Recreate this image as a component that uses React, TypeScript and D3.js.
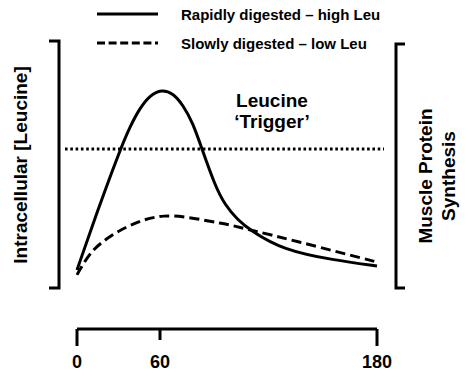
import React from "react";
import * as d3 from "d3";

const timeTicks = [0, 60, 180];
const rapidTime = [0, 14, 31.1, 38.3, 45.5, 52.8, 60.9, 67.2, 72.7, 78.2, 83, 90.4, 95.9, 103.1, 109.7, 128, 156, 180];
const rapidValue = [7.3, 30, 55.9, 65.3, 72.9, 78.1, 80.4, 78.9, 74.1, 66.8, 56.7, 41.5, 33.6, 27.5, 23.5, 15.4, 11.3, 8.9];
const slowTime = [0, 12, 36, 62, 93, 110, 137, 180];
const slowValue = [5.3, 15.4, 24.7, 29.1, 26.3, 23.5, 18.6, 10.5];
const triggerValue = 56.3;
const legendLabels = ["Rapidly digested – high Leu", "Slowly digested – low Leu"];
const leftLabel = "Intracellular [Leucine]";
const rightLabel = ["Muscle Protein", "Synthesis"];
const triggerLabel = ["Leucine", "‘Trigger’"];

export default function App() {
  const W = 470, H = 377;
  const x = d3.scaleLinear().domain([0, 60, 180]).range([77, 160, 377]);
  const y = d3.scaleLinear().domain([0, 100]).range([288, 41]);
  const line = d3.line<[number, number]>()
    .x(d => x(d[0]))
    .y(d => y(d[1]))
    .curve(d3.curveBasis);
  const rapid = line(rapidTime.map((t, i) => [t, rapidValue[i]]) as [number, number][]) || "";
  const slow = d3.line<[number, number]>()
    .x(d => x(d[0]))
    .y(d => y(d[1]))
    .curve(d3.curveCatmullRom.alpha(0.5))(slowTime.map((t, i) => [t, slowValue[i]]) as [number, number][]) || "";
  const font = "Liberation Sans, Arial, sans-serif";
  const axisY = 329;
  return (
    <svg width={W} height={H} style={{ position: "absolute", left: 0, top: 0, background: "#fff" }} fontFamily={font} fontWeight="bold">
      {/* legend */}
      <line x1={97} x2={158} y1={14} y2={14} stroke="#000" strokeWidth={3} />
      <text x={181} y={19.5} fontSize={15}>{legendLabels[0]}</text>
      <line x1={97} x2={158} y1={43} y2={43} stroke="#000" strokeWidth={3} strokeDasharray="8,3.6" />
      <text x={181} y={48.5} fontSize={15}>{legendLabels[1]}</text>

      {/* left bracket */}
      <path d={`M49,${y(100)}H59V${y(0)}H49`} fill="none" stroke="#000" strokeWidth={3} />
      {/* right bracket */}
      <path d={`M405,44H396V${y(0)}H405`} fill="none" stroke="#000" strokeWidth={3} />

      {/* trigger line */}
      <line x1={65} x2={384} y1={y(triggerValue)} y2={y(triggerValue)} stroke="#000" strokeWidth={3} strokeDasharray="2.6,2.7" />

      {/* curves */}
      <path d={slow} fill="none" stroke="#000" strokeWidth={3} strokeDasharray="10,5" />
      <path d={rapid} fill="none" stroke="#000" strokeWidth={3} />

      {/* trigger label */}
      <text x={272} y={107} fontSize={19} textAnchor="middle">{triggerLabel[0]}</text>
      <text x={272} y={128} fontSize={19} textAnchor="middle">{triggerLabel[1]}</text>

      {/* axis labels */}
      <text transform="translate(27,165) rotate(-90)" fontSize={19} textAnchor="middle">{leftLabel}</text>
      <text transform="translate(432,176) rotate(-90)" fontSize={19} textAnchor="middle">{rightLabel[0]}</text>
      <text transform="translate(455,176) rotate(-90)" fontSize={19} textAnchor="middle">{rightLabel[1]}</text>

      {/* x axis */}
      <line x1={x(0)} x2={x(180)} y1={axisY} y2={axisY} stroke="#000" strokeWidth={3} />
      {timeTicks.map((t, i) => (
        <g key={t}>
          <line x1={x(t)} x2={x(t)} y1={axisY} y2={i === 1 ? 340 : 346} stroke="#000" strokeWidth={3} />
          <text x={x(t)} y={368} fontSize={18} textAnchor="middle">{t}</text>
        </g>
      ))}
    </svg>
  );
}
